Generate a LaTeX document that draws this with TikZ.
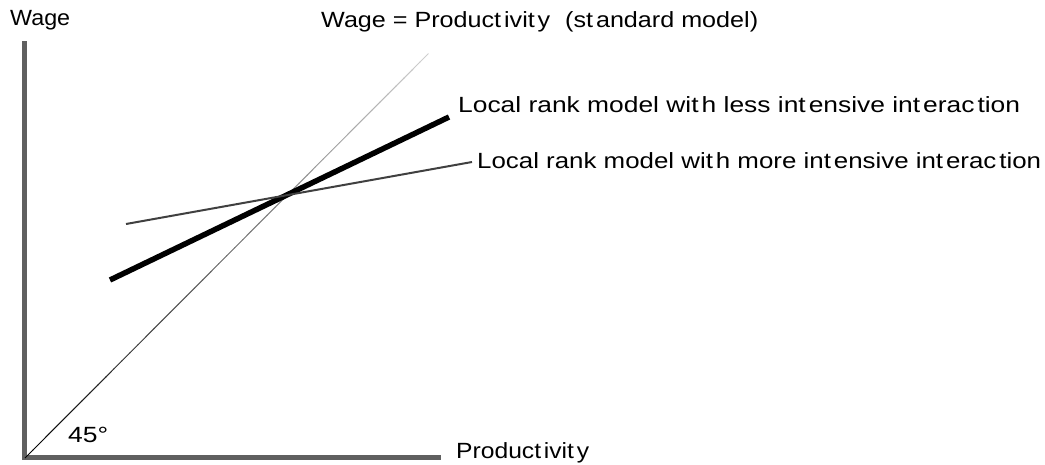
\documentclass[tikz,border=0pt]{standalone}
\usepackage{fontspec}
\usetikzlibrary{calc}
\newfontfamily\lblfont{Liberation Sans}
\newcommand\gp{\kern2.5pt}
\newcommand\wbox[2]{\resizebox{#1pt}{\height}{#2}}
\tikzset{
  lbl/.style={inner sep=0pt, anchor=base west, font=\lblfont\fontsize{22pt}{26pt}\selectfont},
  axis/.style={line width=5pt, draw={rgb,255:red,96;green,96;blue,96}, line join=miter},
  thickline/.style={line width=5.5pt, draw=black},
  thinline/.style={line width=2pt, draw={rgb,255:red,64;green,64;blue,64}}
}
\begin{document}
\begin{tikzpicture}[x=1pt,y=-1pt]
\useasboundingbox (0,0) rectangle (1045,464);
% axes
\coordinate (Ytop) at (24.5,41);
\coordinate (O) at (24.5,457);
\coordinate (Xend) at (441,457);
\draw[axis] (Ytop) -- (O) -- (Xend);
% 45 degree line with fading grey
\coordinate (D0) at (25,458);
\coordinate (D1) at (428,54);
\foreach \i in {0,...,49}{
  \pgfmathsetmacro{\ta}{\i/50}
  \pgfmathsetmacro{\tb}{(\i+1.05)/50}
  \pgfmathsetmacro{\pc}{100-1.65*\i}
  \draw[line width=1pt, draw=black!\pc!white] ($(D0)!\ta!(D1)$) -- ($(D0)!\tb!(D1)$);
}
% model lines
\coordinate (A0) at (110,280);
\coordinate (A1) at (449,117);
\draw[thickline] (A0) -- (A1);
\coordinate (B0) at (126,224);
\coordinate (B1) at (472,162);
\draw[thinline] (B0) -- (B1);
% labels
\node[lbl] (wage) at (10,25) {\wbox{60}{Wage}};
\node[lbl] (title) at (321,27) {\wbox{437}{Wage = Product\gp ivit\gp y\hspace{7pt} (st\gp andard model)}};
\node[lbl] (less) at (458,112) {\wbox{562}{Local rank model wit\gp h less int\gp ensive int\gp erac\gp tion}};
\node[lbl] (more) at (477,168) {\wbox{564}{Local rank model wit\gp h more int\gp ensive int\gp erac\gp tion}};
\node[lbl] (prod) at (456,458) {\wbox{133}{Product\gp ivit\gp y}};
\node[lbl] (deg) at (68,442) {\wbox{40}{45°}};
\end{tikzpicture}
\end{document}
